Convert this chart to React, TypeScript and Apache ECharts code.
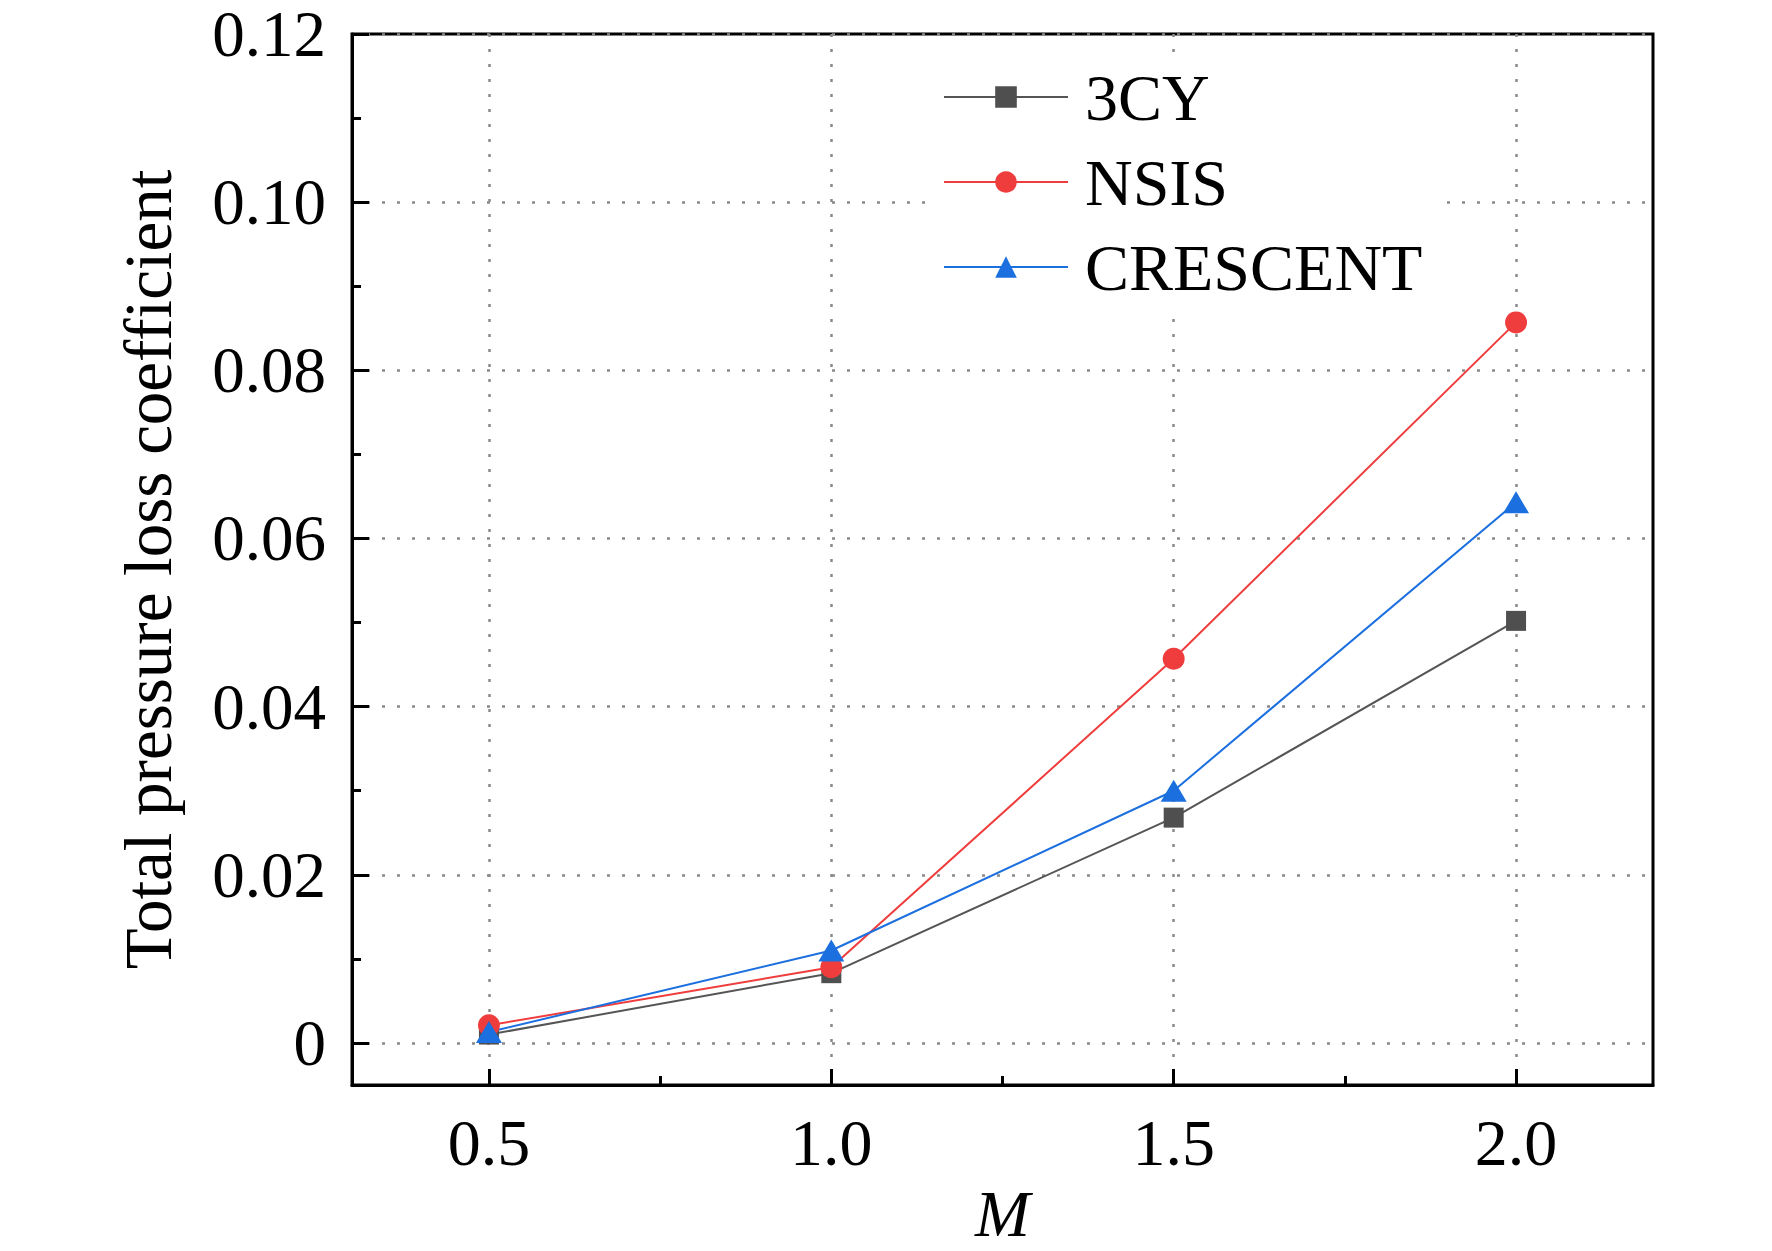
import * as echarts from "echarts";
import { useEffect, useRef } from "react";

const machNumbers = [0.5, 1.0, 1.5, 2.0];
const cy3Values = [0.001, 0.0083, 0.0268, 0.0502];
const nsisValues = [0.0021, 0.009, 0.0457, 0.0857];
const crescentValues = [0.0013, 0.011, 0.03, 0.0643];

const yTickValues = [0, 0.02, 0.04, 0.06, 0.08, 0.1, 0.12];
const yMinorValues = [0.01, 0.03, 0.05, 0.07, 0.09, 0.11];
const xTickValues = [0.5, 1.0, 1.5, 2.0];
const xMinorValues = [0.75, 1.25, 1.75];

const FONT = "Liberation Serif";
const GRID_LINE = { color: "#8a8a8a", width: 2.5, type: [3, 12] as number[] };

const toPairs = (values: number[]) => machNumbers.map((m, i) => [m, values[i]]);

const App: React.FC = () => {
    const node = useRef<HTMLDivElement>(null);

    useEffect(() => {
        document.body.style.margin = "0";
        const chart = echarts.init(node.current, null, { renderer: "svg" });

        const minorAxis = {
            type: "value" as const,
            axisLine: { show: false, onZero: false },
            axisLabel: { show: false },
            splitLine: { show: false },
        };

        const option: echarts.EChartsOption = {
            animation: false,
            backgroundColor: "#fff",
            grid: {
                left: 352,
                top: 34,
                width: 1301,
                height: 1052,
                show: true,
                borderColor: "#000",
                borderWidth: 3,
            },
            legend: {
                orient: "vertical",
                left: 933,
                top: 58,
                itemWidth: 124,
                itemHeight: 27,
                itemGap: 19,
                padding: [6, 24, 8, 10],
                backgroundColor: "#fff",
                textStyle: {
                    fontFamily: FONT,
                    fontSize: 66,
                    color: "#000",
                    padding: [0, 0, 0, 12],
                },
            },
            xAxis: [
                {
                    type: "value",
                    min: 0.3,
                    max: 2.2,
                    splitNumber: 4,
                    name: "M",
                    nameLocation: "middle",
                    nameGap: 95,
                    nameTextStyle: {
                        fontFamily: FONT,
                        fontSize: 66,
                        fontStyle: "italic",
                        color: "#000",
                    },
                    axisLine: { show: true, onZero: false, lineStyle: { color: "#000", width: 3 } },
                    axisTick: {
                        show: true,
                        inside: true,
                        length: 16,
                        customValues: xTickValues,
                        lineStyle: { color: "#000", width: 3 },
                    },
                    axisLabel: {
                        customValues: xTickValues,
                        formatter: (v: number) => v.toFixed(1),
                        fontFamily: FONT,
                        fontSize: 66,
                        color: "#000",
                        margin: 24,
                    },
                    splitLine: { show: true, lineStyle: GRID_LINE },
                },
                {
                    ...minorAxis,
                    min: 0.3,
                    max: 2.2,
                    position: "bottom",
                    axisTick: {
                        show: true,
                        inside: true,
                        length: 9,
                        customValues: xMinorValues,
                        lineStyle: { color: "#000", width: 3 },
                    },
                },
            ],
            yAxis: [
                {
                    type: "value",
                    min: -0.005,
                    max: 0.12,
                    splitNumber: 6,
                    name: "Total pressure loss coefficient",
                    nameLocation: "middle",
                    nameGap: 171,
                    nameTextStyle: {
                        fontFamily: FONT,
                        fontSize: 67,
                        color: "#000",
                        padding: [0, 20, 0, 0],
                    },
                    axisLine: { show: true, onZero: false, lineStyle: { color: "#000", width: 3 } },
                    axisTick: {
                        show: true,
                        inside: true,
                        length: 17,
                        customValues: yTickValues,
                        lineStyle: { color: "#000", width: 3 },
                    },
                    axisLabel: {
                        customValues: yTickValues,
                        formatter: (v: number) => (v === 0 ? "0" : v.toFixed(2)),
                        fontFamily: FONT,
                        fontSize: 65,
                        lineHeight: 56,
                        color: "#000",
                        margin: 26,
                    },
                    splitLine: { show: true, lineStyle: GRID_LINE },
                },
                {
                    ...minorAxis,
                    min: -0.005,
                    max: 0.12,
                    position: "left",
                    axisTick: {
                        show: true,
                        inside: true,
                        length: 9,
                        customValues: yMinorValues,
                        lineStyle: { color: "#000", width: 3 },
                    },
                },
            ],
            series: [
                {
                    name: "3CY",
                    type: "line",
                    data: toPairs(cy3Values),
                    symbol: "rect",
                    symbolSize: 20,
                    color: "#4f4f4f",
                    lineStyle: { color: "#555", width: 2 },
                    itemStyle: { color: "#4f4f4f" },
                },
                {
                    name: "NSIS",
                    type: "line",
                    data: toPairs(nsisValues),
                    symbol: "circle",
                    symbolSize: 22,
                    color: "#ef3d3d",
                    lineStyle: { color: "#ef3d3d", width: 2 },
                    itemStyle: { color: "#ef3d3d" },
                },
                {
                    name: "CRESCENT",
                    type: "line",
                    data: toPairs(crescentValues),
                    symbol: "triangle",
                    symbolSize: [26, 22],
                    color: "#1c6fdf",
                    lineStyle: { color: "#1c6fdf", width: 2 },
                    itemStyle: { color: "#1c6fdf" },
                },
            ],
        };

        chart.setOption(option);
        return () => {
            chart.dispose();
        };
    }, []);

    return <div style={{ width: 1772, height: 1251 }} ref={node}></div>;
};

export default App;
